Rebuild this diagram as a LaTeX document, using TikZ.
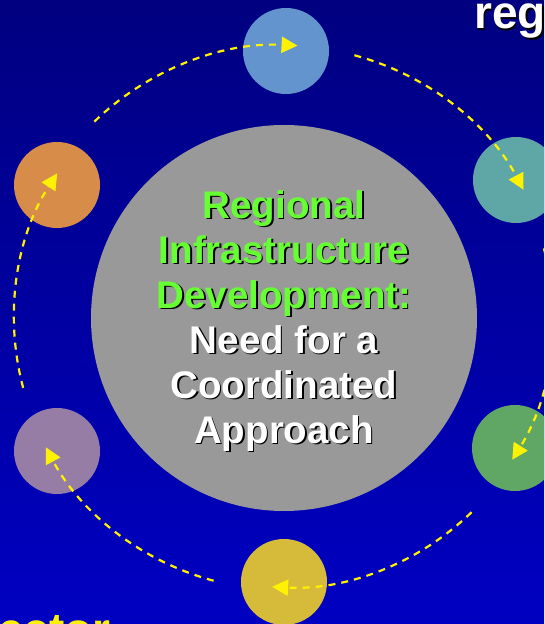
\documentclass[tikz,border=0pt]{standalone}
\usepackage{fontspec}
\setmainfont{Liberation Sans}
\usetikzlibrary{arrows.meta}
\definecolor{bgtop}{RGB}{0,0,128}
\definecolor{bgbottom}{RGB}{0,0,194}
\definecolor{hubgrey}{RGB}{153,153,153}
\definecolor{c1}{RGB}{100,148,205}
\definecolor{c2}{RGB}{95,167,166}
\definecolor{c3}{RGB}{96,166,101}
\definecolor{c4}{RGB}{214,187,58}
\definecolor{c5}{RGB}{150,125,165}
\definecolor{c6}{RGB}{215,140,73}
\definecolor{textgreen}{RGB}{102,255,51}
\tikzset{main node/.style={circle,minimum size=86pt,inner sep=0pt},
         hub node/.style={circle,fill=hubgrey,minimum size=386pt,inner sep=0pt},
         flow/.style={draw=yellow,line width=2.2pt,dash pattern=on 7pt off 6pt,
                      -{Triangle[length=16pt,width=16pt]}},
         big text/.style={font=\fontsize{38.5}{45}\selectfont\bfseries,align=center,inner sep=0pt},
         head text/.style={font=\fontsize{46}{50}\selectfont\bfseries,anchor=base west,inner sep=0pt},
            }

\begin{document}
\begin{tikzpicture}[x=1pt,y=1pt]
    \useasboundingbox (0,0) rectangle (544,624);
    \shade[top color=bgtop,bottom color=bgbottom] (0,0) rectangle (544,624);
    \clip (0,0) rectangle (544,624);

    \node[hub node] (0) at (284,306) {};
    \node[main node,fill=c1] (1) at (286,573) {};
    \node[main node,fill=c2] (2) at (516,444) {};
    \node[main node,fill=c3] (3) at (515,176) {};
    \node[main node,fill=c4] (4) at (284,42)  {};
    \node[main node,fill=c5] (5) at (57,173)  {};
    \node[main node,fill=c6] (6) at (57,439)  {};

    % dashed ring
    \draw[flow] (0.center) ++(134:273) arc[start angle=134,end angle=87,radius=272];
    \draw[flow] (0.center) ++(75:272)  arc[start angle=75,end angle=28,radius=271];
    \draw[flow] (0.center) ++(15:269)  arc[start angle=15,end angle=-32,radius=268];
    \draw[flow] (0.center) ++(-46:270) arc[start angle=-46,end angle=-93,radius=267];
    \draw[flow] (0.center) ++(-105:272) arc[start angle=-105,end angle=-152,radius=269];
    \draw[flow] (0.center) ++(195:270) arc[start angle=195,end angle=147,radius=267];

    % texts
    \node[big text,text=black] (title shadow) at (285.5,301.5)
        {Regional\\Infrastructure\\Development:\\Need for a\\Coordinated\\Approach};
    \node[big text,text=white] (title) at (284,303)
        {\textcolor{textgreen}{Regional}\\\textcolor{textgreen}{Infrastructure}\\\textcolor{textgreen}{Development:}\\Need for a\\Coordinated\\Approach};
    \node[head text,text=black] (head shadow) at (475.5,593.5) {reg};
    \node[head text,text=white] (head) at (474,595) {reg};
    \node[head text,text=yellow] (foot) at (-2,-21) {ector};
\end{tikzpicture}
\end{document}
